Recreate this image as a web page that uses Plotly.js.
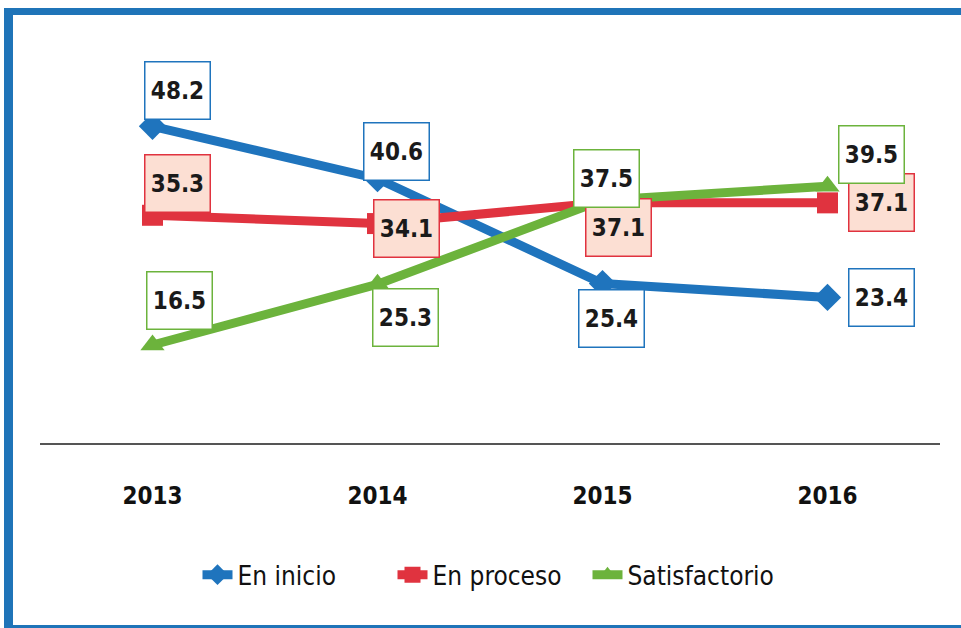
<!DOCTYPE html>
<html>
<head>
<meta charset="utf-8">
<script src="https://cdn.plot.ly/plotly-3.0.1.min.js"></script>
<style>
  html, body { margin: 0; padding: 0; background: #ffffff; }
  #chart { width: 961px; height: 628px; }
  #frame {
    position: absolute; left: 4px; top: 8px; width: 957px; height: 620px;
    box-sizing: border-box;
    border-left: 9px solid #1f74b8; border-top: 7px solid #1f74b8; border-bottom: 3px solid #1f74b8;
    pointer-events: none;
  }
</style>
</head>
<body>
<div id="chart"></div>
<div id="frame"></div>
<script>
const years = ["2013", "2014", "2015", "2016"];
const enInicio = [48.2, 40.6, 25.4, 23.4];
const enProceso = [35.3, 34.1, 37.1, 37.1];
const satisfactorio = [16.5, 25.3, 37.5, 39.5];
const seriesNames = ["En inicio", "En proceso", "Satisfactorio"];

const colors = ["#1f74bd", "#e0333f", "#6cb33c"];
const symbols = ["diamond", "square", "triangle-up"];
const values = [enInicio, enProceso, satisfactorio];
const labelBg = ["#ffffff", "#fcdfd3", "#ffffff"];
// label offsets in pixels per series/point (xshift, yshift)
const offsets = [
  [[25, 36], [19, 27], [9, -35], [54, 0]],
  [[25, 32], [29, -5], [16, -25], [54, 0]],
  [[27, 45], [28, -33], [4, 22], [44, 32]]
];

const font = "DejaVu Sans Condensed, DejaVu Sans, sans-serif";

const traces = values.map((v, i) => ({
  type: "scatter", mode: "lines+markers", name: seriesNames[i],
  x: years, y: v,
  line: { color: colors[i], width: 9 },
  marker: { color: colors[i], symbol: symbols[i], size: 21 },
  hoverinfo: "skip"
}));

const annotations = [];
values.forEach((v, i) => {
  v.forEach((val, j) => {
    annotations.push({
      x: j, y: val, xref: "x", yref: "y",
      text: "<b>" + val.toFixed(1) + "</b>",
      showarrow: false,
      xshift: offsets[i][j][0], yshift: offsets[i][j][1],
      font: { family: font, size: 24, color: "#1a1a1a" },
      bgcolor: labelBg[i], bordercolor: colors[i], borderwidth: 1.5,
      width: 62, height: 54
    });
  });
});

const layout = {
  width: 961, height: 628,
  margin: { l: 40, r: 21, t: 40, b: 185 },
  paper_bgcolor: "#ffffff", plot_bgcolor: "#ffffff",
  showlegend: true,
  legend: {
    orientation: "h", x: 0.5, xanchor: "center", y: -0.327, yanchor: "middle",
    font: { family: font, size: 26, color: "#111111" },
    traceorder: "normal", entrywidth: 150, entrywidthmode: "pixels"
  },
  xaxis: {
    type: "category", range: [-0.5, 3.5],
    showgrid: false, zeroline: false,
    showline: true, linecolor: "#555555", linewidth: 2,
    ticks: "", ticklabelstandoff: 30,
    tickfont: { family: font, size: 24, color: "#111111", weight: "bold" },
    fixedrange: true
  },
  yaxis: {
    range: [2.3, 60.7], showgrid: false, zeroline: false, showline: false,
    showticklabels: false, ticks: "", fixedrange: true
  },
  annotations: annotations
};

Plotly.newPlot("chart", traces, layout, { displayModeBar: false, staticPlot: true });
</script>
</body>
</html>
